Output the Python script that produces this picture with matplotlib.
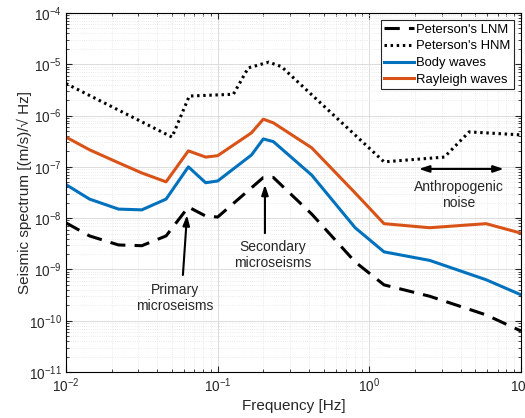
import matplotlib.pyplot as plt
import numpy as np

# Frequencies (Hz) of the curve break points
freq_lnm = [0.01, 0.0143, 0.0222, 0.0316, 0.0457, 0.0641, 0.0833, 0.1, 0.167,
            0.2, 0.233, 0.417, 0.806, 1.25, 2.5, 5.88, 10]
lnm = [8.1e-9, 4.5e-9, 3.0e-9, 2.9e-9, 4.5e-9, 1.65e-8, 1.1e-8, 1.05e-8, 3.9e-8,
       6.2e-8, 6.2e-8, 1.2e-8, 1.4e-9, 5.0e-10, 3.0e-10, 1.3e-10, 6.3e-11]

freq_hnm = [0.01, 0.05, 0.065, 0.127, 0.159, 0.217, 0.263, 1.25, 3.125, 4.55, 10]
hnm = [4.2e-6, 3.8e-7, 2.4e-6, 2.6e-6, 8.5e-6, 1.1e-5, 9.0e-6, 1.25e-7, 1.55e-7,
       4.8e-7, 4.2e-7]

body = [4.5e-8, 2.35e-8, 1.5e-8, 1.45e-8, 2.35e-8, 1.0e-7, 4.9e-8, 5.3e-8, 1.7e-7,
        3.5e-7, 3.1e-7, 6.9e-8, 6.5e-9, 2.2e-9, 1.5e-9, 6.3e-10, 3.2e-10]
rayleigh = [3.8e-7, 2.15e-7, 1.2e-7, 7.6e-8, 5.1e-8, 2.05e-7, 1.55e-7, 1.65e-7, 4.6e-7,
            8.5e-7, 7.2e-7, 2.35e-7, 3.1e-8, 7.8e-9, 6.5e-9, 7.8e-9, 5.1e-9]

txt = '#262626'
plt.rcParams['font.family'] = ['Liberation Sans', 'DejaVu Sans']

fig = plt.figure(figsize=(5.25, 4.18), dpi=100)
ax = fig.add_axes([0.1257, 0.110, 0.8667, 0.859])

# Curves
ax.plot(freq_lnm, lnm, color='k', lw=2.2, ls=(0, (5, 3)), label="Peterson's LNM")
ax.plot(freq_hnm, hnm, color='k', lw=2.2, ls=(0, (0.8, 1.2)), label="Peterson's HNM")
ax.plot(freq_lnm, body, color='#0072BD', lw=2.2, label='Body waves')
ax.plot(freq_lnm, rayleigh, color='#D95319', lw=2.2, label='Rayleigh waves')

ax.set_xscale('log')
ax.set_yscale('log')
ax.set_xlim(1e-2, 10)
ax.set_ylim(1e-11, 1e-4)

# Grid and ticks, MATLAB-like
ax.grid(True, which='major', color='#dcdcdc', lw=0.7)
ax.grid(True, which='minor', color='#e4e4e4', lw=0.6, ls=':')
ax.set_axisbelow(True)
ax.tick_params(which='both', direction='in', top=True, right=True, colors=txt,
               labelsize=9.8, pad=3)
ax.tick_params(which='major', length=4)
ax.tick_params(which='minor', length=2)
ax.yaxis.set_major_locator(plt.LogLocator(base=10, numticks=10))
ax.yaxis.set_minor_locator(plt.LogLocator(base=10, subs=np.arange(2, 10), numticks=20))
for s in ax.spines.values():
    s.set_color('k')
    s.set_linewidth(0.8)

ax.set_xlabel('Frequency [Hz]', fontsize=11, color=txt, labelpad=3)
ax.set_ylabel('Seismic spectrum [(m/s)/\u221a Hz]', fontsize=11, color=txt, labelpad=-2)

leg = ax.legend(loc='upper right', fontsize=9.4, handlelength=2.3, handletextpad=0.15,
                borderpad=0.25, labelspacing=0.36, borderaxespad=0.55,
                fancybox=False, framealpha=1)
leg.get_frame().set_edgecolor('#262626')
leg.get_frame().set_linewidth(0.8)

# Annotations
arrow = dict(arrowstyle='-|>,head_length=0.6,head_width=0.2', color='k', lw=1.5,
             shrinkA=0, shrinkB=0)
ax.annotate('', xy=(0.0628, 1.15e-8), xytext=(0.059, 7.8e-10), arrowprops=arrow)
ax.text(0.0524, 2.8e-10, 'Primary\nmicroseisms', ha='center', va='center',
        fontsize=10, color=txt, linespacing=1.2)
ax.annotate('', xy=(0.205, 4.5e-8), xytext=(0.205, 5.1e-9), arrowprops=arrow)
ax.text(0.232, 1.9e-9, 'Secondary\nmicroseisms', ha='center', va='center',
        fontsize=10, color=txt, linespacing=1.2)
dbl = dict(arrowstyle='<|-|>,head_length=0.6,head_width=0.2', color='k', lw=1.5,
           shrinkA=0, shrinkB=0)
ax.annotate('', xy=(2.12, 9.1e-8), xytext=(7.7, 9.1e-8), arrowprops=dbl)
ax.text(3.9, 2.8e-8, 'Anthropogenic\nnoise', ha='center', va='center',
        fontsize=10, color=txt, linespacing=1.2)

fig.savefig('out.png', dpi=100)
